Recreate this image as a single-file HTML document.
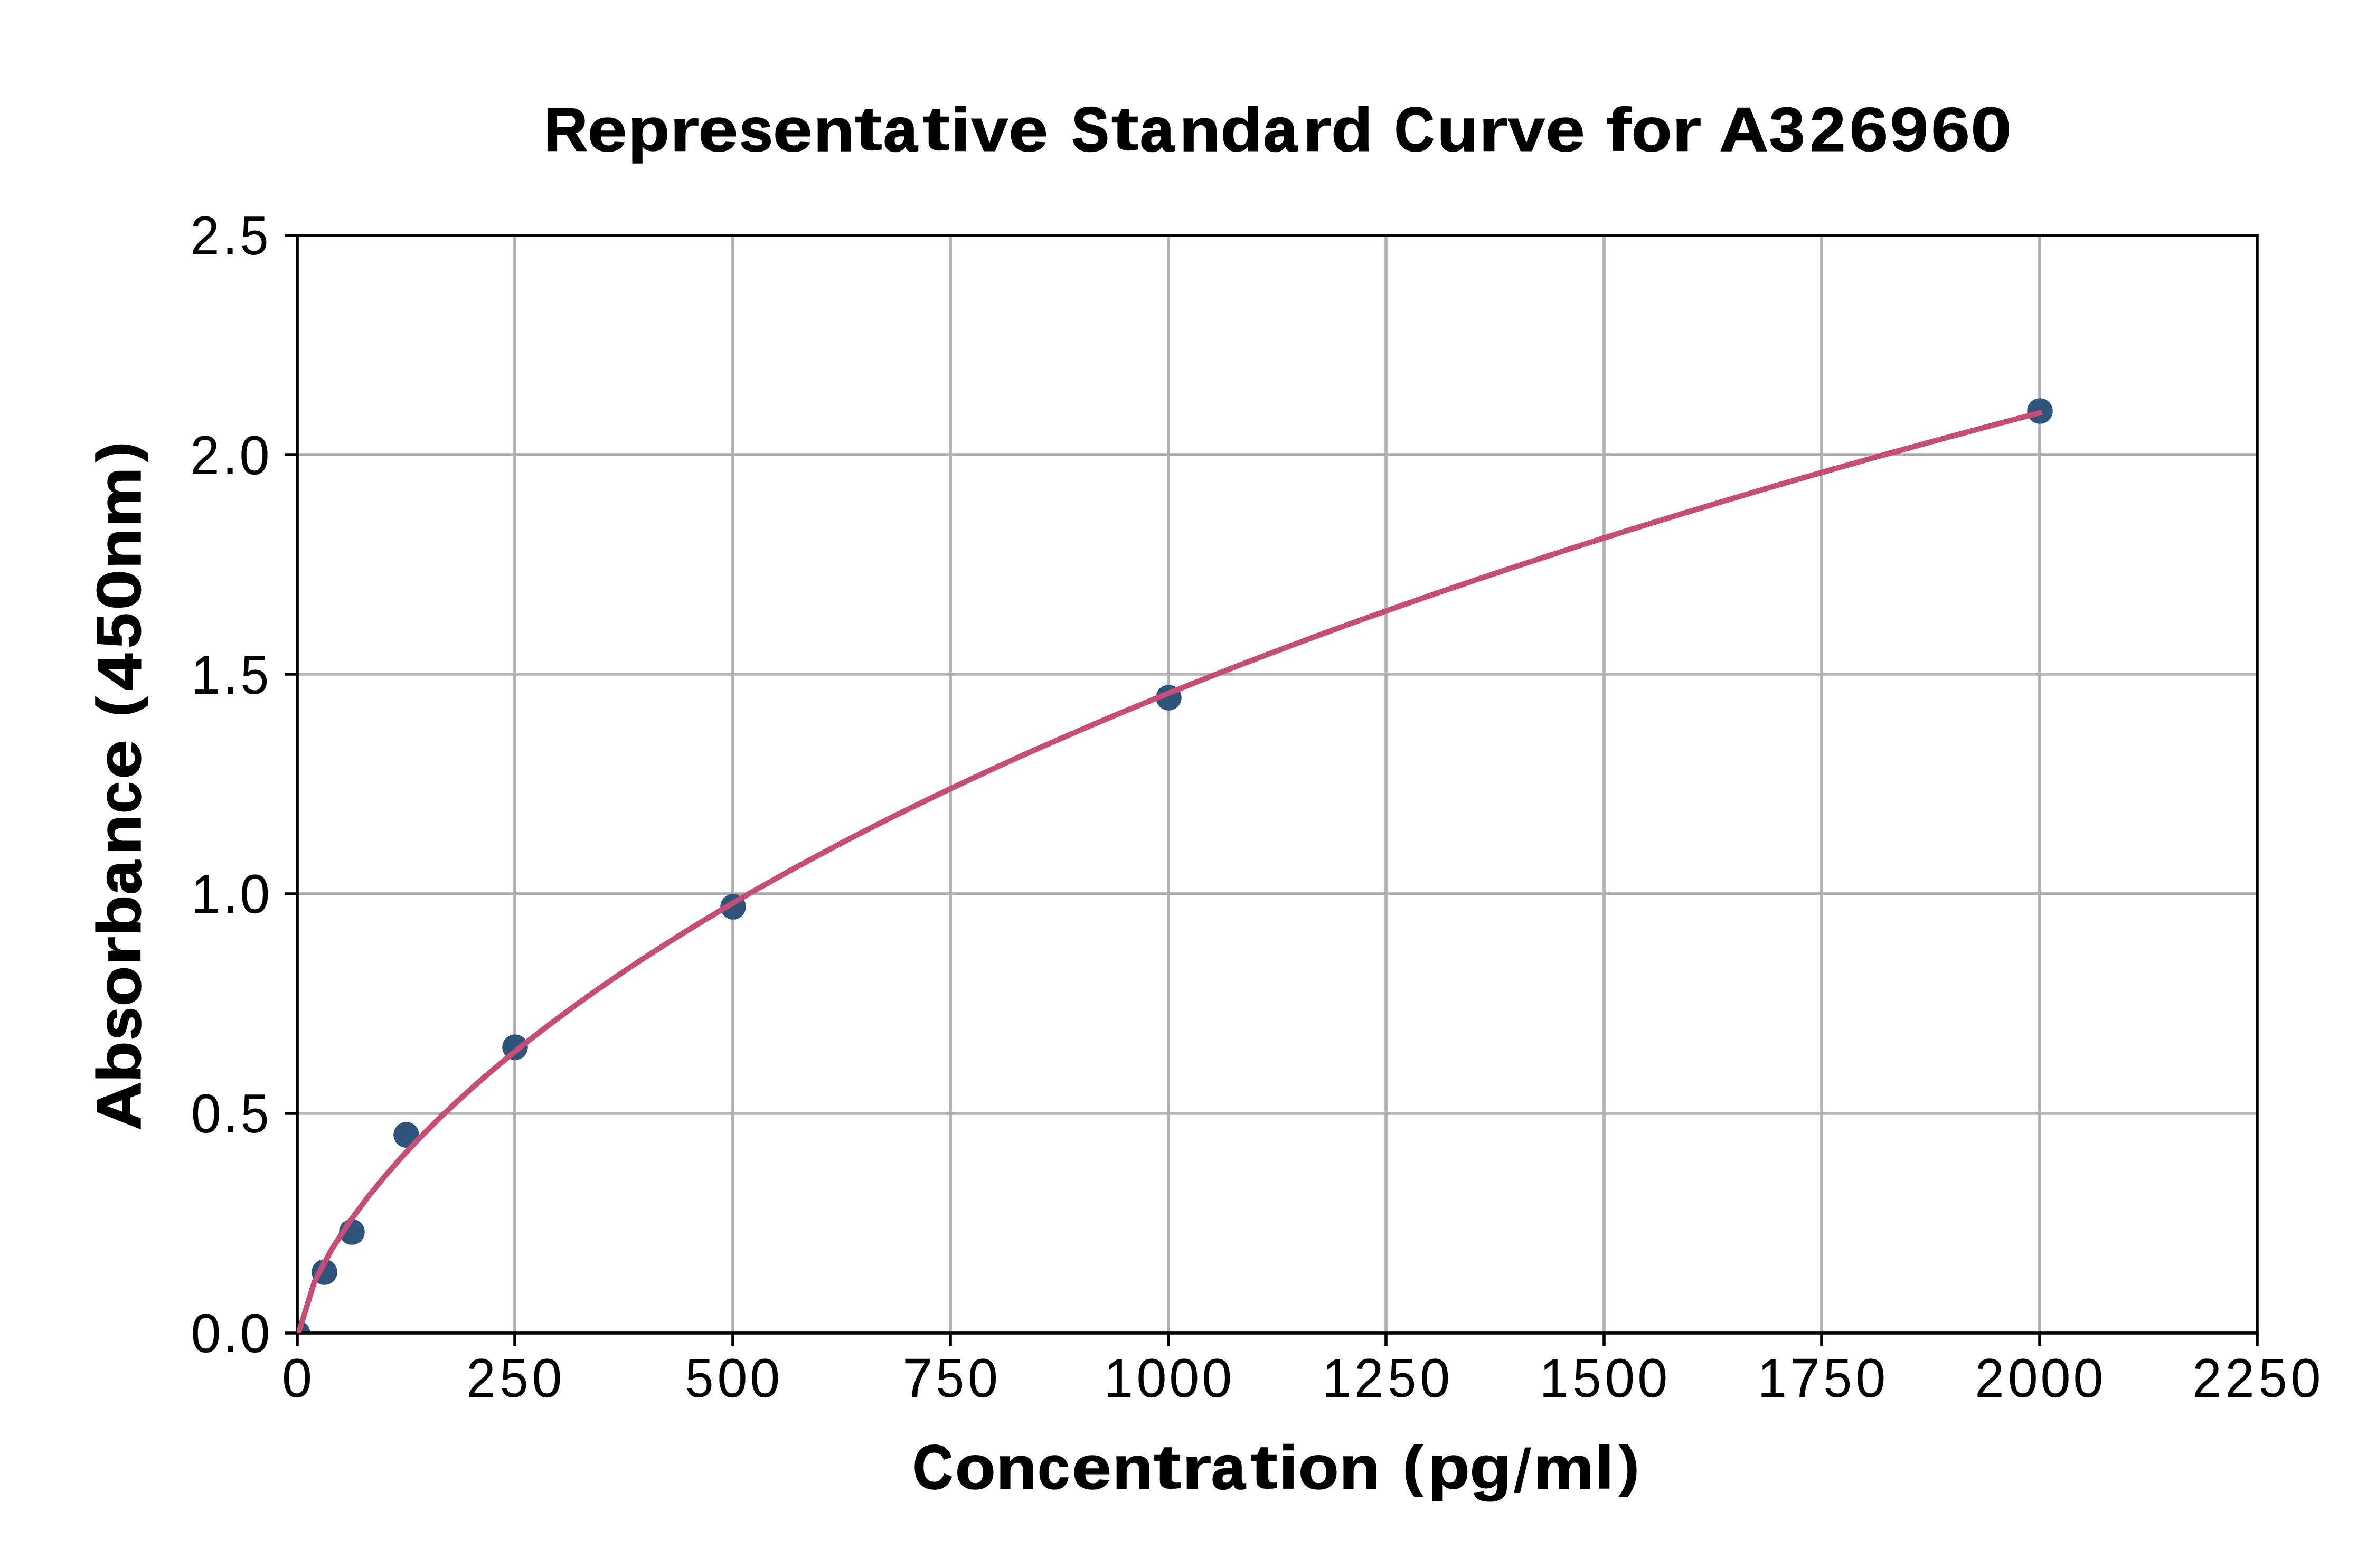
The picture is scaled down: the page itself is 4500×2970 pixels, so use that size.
<!DOCTYPE html>
<html><head><meta charset="utf-8"><title>Representative Standard Curve for A326960</title>
<style>html,body{margin:0;padding:0;background:#fff}body{width:4500px;height:2970px}svg{display:block}</style>
</head><body>
<svg width="4500" height="2970" viewBox="0 0 4500 2970">
<defs><clipPath id="ax"><rect x="563" y="446" width="3712" height="2079"/></clipPath></defs>
<rect width="4500" height="2970" fill="#fff"/>
<path d="M975 446V2525M1388 446V2525M1800 446V2525M2213 446V2525M2625 446V2525M3038 446V2525M3450 446V2525M3863 446V2525M563 2109H4275M563 1693H4275M563 1277H4275M563 861H4275" stroke="#b0b0b0" stroke-width="5.6" fill="none"/>
<g clip-path="url(#ax)" fill="#2e5479"><circle cx="563.5" cy="2525.5" r="24.31"/><circle cx="614.5" cy="2409.5" r="24.31"/><circle cx="666.5" cy="2333.5" r="24.31"/><circle cx="769.5" cy="2149.5" r="24.31"/><circle cx="975.5" cy="1983.5" r="24.31"/><circle cx="1388.5" cy="1717.5" r="24.31"/><circle cx="2213.5" cy="1321.5" r="24.31"/><circle cx="3863.5" cy="778.5" r="24.31"/></g>
<rect x="563.03" y="446.03" width="3711.94" height="2078.94" fill="none" stroke="#000" stroke-width="5.62"/>
<path d="M563 2525V2549M975 2525V2549M1388 2525V2549M1800 2525V2549M2213 2525V2549M2625 2525V2549M3038 2525V2549M3450 2525V2549M3863 2525V2549M4275 2525V2549M563 2525H539M563 2109H539M563 1693H539M563 1277H539M563 861H539M563 446H539" stroke="#000" stroke-width="5.62" fill="none"/>
<polyline clip-path="url(#ax)" points="562.5,2534.21 595.83,2426.81 629.17,2364.83 662.5,2313.63 695.83,2268.55 729.17,2227.62 762.5,2189.8 795.83,2154.42 829.17,2121.04 862.5,2089.35 895.83,2059.1 929.17,2030.11 962.5,2002.24 995.83,1975.37 1029.17,1949.39 1062.5,1924.24 1095.83,1899.83 1129.17,1876.11 1162.5,1853.03 1195.83,1830.54 1229.17,1808.6 1262.5,1787.18 1295.83,1766.24 1329.17,1745.76 1362.5,1725.71 1395.83,1706.07 1429.17,1686.82 1462.5,1667.93 1495.83,1649.39 1529.17,1631.19 1562.5,1613.31 1595.83,1595.73 1629.17,1578.44 1662.5,1561.43 1695.83,1544.69 1729.17,1528.21 1762.5,1511.98 1795.83,1495.99 1829.17,1480.24 1862.5,1464.7 1895.83,1449.38 1929.17,1434.27 1962.5,1419.36 1995.83,1404.65 2029.17,1390.13 2062.5,1375.79 2095.83,1361.63 2129.17,1347.65 2162.5,1333.83 2195.83,1320.17 2229.17,1306.68 2262.5,1293.34 2295.83,1280.15 2329.17,1267.11 2362.5,1254.21 2395.83,1241.46 2429.17,1228.84 2462.5,1216.35 2495.83,1203.99 2529.17,1191.76 2562.5,1179.65 2595.83,1167.67 2629.17,1155.8 2662.5,1144.05 2695.83,1132.41 2729.17,1120.88 2762.5,1109.46 2795.83,1098.15 2829.17,1086.95 2862.5,1075.84 2895.83,1064.83 2929.17,1053.93 2962.5,1043.12 2995.83,1032.4 3029.17,1021.78 3062.5,1011.24 3095.83,1000.8 3129.17,990.45 3162.5,980.18 3195.83,969.99 3229.17,959.89 3262.5,949.87 3295.83,939.93 3329.17,930.07 3362.5,920.28 3395.83,910.57 3429.17,900.94 3462.5,891.38 3495.83,881.89 3529.17,872.48 3562.5,863.13 3595.83,853.86 3629.17,844.65 3662.5,835.51 3695.83,826.43 3729.17,817.42 3762.5,808.47 3795.83,799.59 3829.17,790.77 3862.5,782.01" fill="none" stroke="#c54d77" stroke-width="10.42" stroke-linecap="square" stroke-linejoin="round"/>
<g font-family="'Liberation Sans', sans-serif" fill="#000">
<text font-weight="bold"><tspan x="1030.05" y="285.5" font-size="117.74" textLength="83.2" lengthAdjust="spacingAndGlyphs" stroke="#000" stroke-width="1.6">R</tspan><tspan x="1112.62" y="285.94" font-size="116.46" textLength="75.1" lengthAdjust="spacingAndGlyphs" stroke="#000" stroke-width="1.33">e</tspan><tspan x="1189.3" y="284.91" font-size="114.23" textLength="79.05" lengthAdjust="spacingAndGlyphs" stroke="#000" stroke-width="1.43">p</tspan><tspan x="1267.72" y="285.5" font-size="115.54" textLength="57.01" lengthAdjust="spacingAndGlyphs" stroke="#000" stroke-width="0.39">r</tspan><tspan x="1322.34" y="285.94" font-size="116.46" textLength="75.1" lengthAdjust="spacingAndGlyphs" stroke="#000" stroke-width="1.33">e</tspan><tspan x="1399.93" y="285.94" font-size="116.36" textLength="63.87" lengthAdjust="spacingAndGlyphs" stroke="#000" stroke-width="1.79">s</tspan><tspan x="1463.86" y="285.94" font-size="116.46" textLength="75.1" lengthAdjust="spacingAndGlyphs" stroke="#000" stroke-width="1.33">e</tspan><tspan x="1540.72" y="285.5" font-size="115.54" textLength="77.27" lengthAdjust="spacingAndGlyphs" stroke="#000" stroke-width="1.58">n</tspan><tspan x="1618.36" y="284.46" font-size="118" textLength="52.98" lengthAdjust="spacingAndGlyphs" stroke="#000" stroke-width="0.56">t</tspan><tspan x="1673.36" y="285.94" font-size="116.46" textLength="64.11" lengthAdjust="spacingAndGlyphs" stroke="#000" stroke-width="2.52">a</tspan><tspan x="1746.47" y="284.46" font-size="118" textLength="52.98" lengthAdjust="spacingAndGlyphs" stroke="#000" stroke-width="0.56">t</tspan><tspan x="1799.52" y="285.5" font-size="116.5" textLength="39.33" lengthAdjust="spacingAndGlyphs" stroke="#000" stroke-width="0.57">i</tspan><tspan x="1839.36" y="285.5" font-size="115.01" textLength="70.17" lengthAdjust="spacingAndGlyphs" stroke="#000" stroke-width="1.06">v</tspan><tspan x="1910.11" y="285.94" font-size="116.46" textLength="75.1" lengthAdjust="spacingAndGlyphs" stroke="#000" stroke-width="1.33">e</tspan> <tspan x="2029.57" y="285.91" font-size="118.7" textLength="71.15" lengthAdjust="spacingAndGlyphs" stroke="#000" stroke-width="2.28">S</tspan><tspan x="2104.22" y="284.46" font-size="118" textLength="52.98" lengthAdjust="spacingAndGlyphs" stroke="#000" stroke-width="0.56">t</tspan><tspan x="2159.22" y="285.94" font-size="116.46" textLength="64.11" lengthAdjust="spacingAndGlyphs" stroke="#000" stroke-width="2.52">a</tspan><tspan x="2233.8" y="285.5" font-size="115.54" textLength="77.27" lengthAdjust="spacingAndGlyphs" stroke="#000" stroke-width="1.58">n</tspan><tspan x="2311.6" y="285.93" font-size="117.1" textLength="79.05" lengthAdjust="spacingAndGlyphs" stroke="#000" stroke-width="1.29">d</tspan><tspan x="2392.86" y="285.94" font-size="116.46" textLength="64.11" lengthAdjust="spacingAndGlyphs" stroke="#000" stroke-width="2.52">a</tspan><tspan x="2466.12" y="285.5" font-size="115.54" textLength="57.01" lengthAdjust="spacingAndGlyphs" stroke="#000" stroke-width="0.39">r</tspan><tspan x="2520.93" y="285.93" font-size="117.1" textLength="79.05" lengthAdjust="spacingAndGlyphs" stroke="#000" stroke-width="1.29">d</tspan> <tspan x="2640.69" y="285.91" font-size="118.7" textLength="76.11" lengthAdjust="spacingAndGlyphs" stroke="#000" stroke-width="1.81">C</tspan><tspan x="2721.86" y="285.94" font-size="115.85" textLength="77.27" lengthAdjust="spacingAndGlyphs" stroke="#000" stroke-width="1.53">u</tspan><tspan x="2799.81" y="285.5" font-size="115.54" textLength="57.01" lengthAdjust="spacingAndGlyphs" stroke="#000" stroke-width="0.39">r</tspan><tspan x="2856.12" y="285.5" font-size="115.01" textLength="70.17" lengthAdjust="spacingAndGlyphs" stroke="#000" stroke-width="1.06">v</tspan><tspan x="2926.87" y="285.94" font-size="116.46" textLength="75.1" lengthAdjust="spacingAndGlyphs" stroke="#000" stroke-width="1.33">e</tspan> <tspan x="3041.01" y="285.5" font-size="116.5" textLength="49.45" lengthAdjust="spacingAndGlyphs" stroke="#000" stroke-width="0.4">f</tspan><tspan x="3089.66" y="285.94" font-size="116.46" textLength="76.58" lengthAdjust="spacingAndGlyphs" stroke="#000" stroke-width="1.72">o</tspan><tspan x="3165.8" y="285.5" font-size="115.54" textLength="57.01" lengthAdjust="spacingAndGlyphs" stroke="#000" stroke-width="0.39">r</tspan> <tspan x="3257" y="285.5" font-size="117.74" textLength="91.4" lengthAdjust="spacingAndGlyphs" stroke="#000" stroke-width="2.43">A</tspan><tspan x="3350.22" y="285.74" font-size="118.45" textLength="68.29" lengthAdjust="spacingAndGlyphs" stroke="#000" stroke-width="1.2">3</tspan><tspan x="3427.48" y="285.5" font-size="118.1" textLength="68" lengthAdjust="spacingAndGlyphs" stroke="#000" stroke-width="1.18">2</tspan><tspan x="3502.27" y="285.92" font-size="118.54" textLength="74.15" lengthAdjust="spacingAndGlyphs" stroke="#000" stroke-width="0.66">6</tspan><tspan x="3578.73" y="285.92" font-size="118.54" textLength="74" lengthAdjust="spacingAndGlyphs" stroke="#000" stroke-width="0.4">9</tspan><tspan x="3656.93" y="285.92" font-size="118.54" textLength="74.15" lengthAdjust="spacingAndGlyphs" stroke="#000" stroke-width="0.66">6</tspan><tspan x="3732.02" y="285.91" font-size="118.7" textLength="77.97" lengthAdjust="spacingAndGlyphs" stroke="#000" stroke-width="0.85">0</tspan></text>
<text font-weight="bold"><tspan x="1728.84" y="2820.41" font-size="118.7" textLength="76.11" lengthAdjust="spacingAndGlyphs" stroke="#000" stroke-width="1.81">C</tspan><tspan x="1809.05" y="2820.44" font-size="116.46" textLength="76.58" lengthAdjust="spacingAndGlyphs" stroke="#000" stroke-width="1.72">o</tspan><tspan x="1886.51" y="2820" font-size="115.54" textLength="77.27" lengthAdjust="spacingAndGlyphs" stroke="#000" stroke-width="1.58">n</tspan><tspan x="1965.1" y="2820.44" font-size="116.46" textLength="61.18" lengthAdjust="spacingAndGlyphs" stroke="#000" stroke-width="1.5">c</tspan><tspan x="2030" y="2820.44" font-size="116.46" textLength="75.1" lengthAdjust="spacingAndGlyphs" stroke="#000" stroke-width="1.33">e</tspan><tspan x="2106.87" y="2820" font-size="115.54" textLength="77.27" lengthAdjust="spacingAndGlyphs" stroke="#000" stroke-width="1.58">n</tspan><tspan x="2184.51" y="2818.96" font-size="118" textLength="52.98" lengthAdjust="spacingAndGlyphs" stroke="#000" stroke-width="0.56">t</tspan><tspan x="2237.78" y="2820" font-size="115.54" textLength="57.01" lengthAdjust="spacingAndGlyphs" stroke="#000" stroke-width="0.39">r</tspan><tspan x="2294.3" y="2820.44" font-size="116.46" textLength="64.11" lengthAdjust="spacingAndGlyphs" stroke="#000" stroke-width="2.52">a</tspan><tspan x="2367.41" y="2818.96" font-size="118" textLength="52.98" lengthAdjust="spacingAndGlyphs" stroke="#000" stroke-width="0.56">t</tspan><tspan x="2420.46" y="2820" font-size="116.5" textLength="39.33" lengthAdjust="spacingAndGlyphs" stroke="#000" stroke-width="0.57">i</tspan><tspan x="2458.99" y="2820.44" font-size="116.46" textLength="76.58" lengthAdjust="spacingAndGlyphs" stroke="#000" stroke-width="1.72">o</tspan><tspan x="2536.45" y="2820" font-size="115.54" textLength="77.27" lengthAdjust="spacingAndGlyphs" stroke="#000" stroke-width="1.58">n</tspan> <tspan x="2657.09" y="2812.62" font-size="106.16" textLength="38.15" lengthAdjust="spacingAndGlyphs" stroke="#000" stroke-width="1.61">(</tspan><tspan x="2704.83" y="2819.41" font-size="114.23" textLength="79.05" lengthAdjust="spacingAndGlyphs" stroke="#000" stroke-width="1.43">p</tspan><tspan x="2783.25" y="2819.67" font-size="114.73" textLength="79.2" lengthAdjust="spacingAndGlyphs" stroke="#000" stroke-width="1.07">g</tspan><tspan x="2861.59" y="2827.85" font-size="122.62" textLength="43.65" lengthAdjust="spacingAndGlyphs" stroke="#fff" stroke-width="5.23">/</tspan><tspan x="2904.48" y="2820" font-size="115.54" textLength="114.19" lengthAdjust="spacingAndGlyphs" stroke="#000" stroke-width="1.49">m</tspan><tspan x="3018.96" y="2820" font-size="116.5" textLength="39.33" lengthAdjust="spacingAndGlyphs">l</tspan><tspan x="3066.39" y="2812.62" font-size="106.16" textLength="38.15" lengthAdjust="spacingAndGlyphs" stroke="#000" stroke-width="1.63">)</tspan></text>
<text transform="translate(265.5 0) rotate(-90)" font-weight="bold"><tspan x="-2140.54" y="0" font-size="117.74" textLength="91.4" lengthAdjust="spacingAndGlyphs" stroke="#000" stroke-width="2.37">A</tspan><tspan x="-2051.13" y="0.43" font-size="117.1" textLength="79.05" lengthAdjust="spacingAndGlyphs" stroke="#000" stroke-width="1.19">b</tspan><tspan x="-1970.67" y="0.44" font-size="116.36" textLength="63.87" lengthAdjust="spacingAndGlyphs" stroke="#000" stroke-width="1.73">s</tspan><tspan x="-1906.36" y="0.44" font-size="116.46" textLength="76.58" lengthAdjust="spacingAndGlyphs" stroke="#000" stroke-width="1.66">o</tspan><tspan x="-1830.22" y="0" font-size="115.54" textLength="57.01" lengthAdjust="spacingAndGlyphs" stroke="#000" stroke-width="0.33">r</tspan><tspan x="-1774.3" y="0.43" font-size="117.1" textLength="79.05" lengthAdjust="spacingAndGlyphs" stroke="#000" stroke-width="1.19">b</tspan><tspan x="-1694.15" y="0.44" font-size="116.46" textLength="64.11" lengthAdjust="spacingAndGlyphs" stroke="#000" stroke-width="2.46">a</tspan><tspan x="-1619.57" y="0" font-size="115.54" textLength="77.27" lengthAdjust="spacingAndGlyphs" stroke="#000" stroke-width="1.52">n</tspan><tspan x="-1540.98" y="0.44" font-size="116.46" textLength="61.18" lengthAdjust="spacingAndGlyphs" stroke="#000" stroke-width="1.44">c</tspan><tspan x="-1476.08" y="0.44" font-size="116.46" textLength="75.1" lengthAdjust="spacingAndGlyphs" stroke="#000" stroke-width="1.27">e</tspan> <tspan x="-1357.68" y="-7.38" font-size="106.16" textLength="38.15" lengthAdjust="spacingAndGlyphs" stroke="#000" stroke-width="1.55">(</tspan><tspan x="-1307.65" y="0" font-size="117.74" textLength="69.79" lengthAdjust="spacingAndGlyphs" stroke="#000" stroke-width="2">4</tspan><tspan x="-1228.61" y="0.42" font-size="118.34" textLength="68.16" lengthAdjust="spacingAndGlyphs" stroke="#000" stroke-width="1.05">5</tspan><tspan x="-1156.31" y="0.41" font-size="118.7" textLength="77.97" lengthAdjust="spacingAndGlyphs" stroke="#000" stroke-width="0.79">0</tspan><tspan x="-1077.76" y="0" font-size="115.54" textLength="77.27" lengthAdjust="spacingAndGlyphs" stroke="#000" stroke-width="1.52">n</tspan><tspan x="-998.89" y="0" font-size="115.54" textLength="114.19" lengthAdjust="spacingAndGlyphs" stroke="#000" stroke-width="1.43">m</tspan><tspan x="-875.06" y="-7.38" font-size="106.16" textLength="38.15" lengthAdjust="spacingAndGlyphs" stroke="#000" stroke-width="1.57">)</tspan></text>
<text><tspan x="361.61" y="2561.36" font-size="103.86" textLength="57" lengthAdjust="spacingAndGlyphs" stroke="#000" stroke-width="0.27">0</tspan><tspan x="421.87" y="2561" font-size="112.76" textLength="29.23" lengthAdjust="spacingAndGlyphs">.</tspan><tspan x="454.39" y="2561.36" font-size="103.86" textLength="57" lengthAdjust="spacingAndGlyphs" stroke="#000" stroke-width="0.27">0</tspan></text>
<text><tspan x="361.63" y="2145.36" font-size="103.86" textLength="57" lengthAdjust="spacingAndGlyphs" stroke="#000" stroke-width="0.27">0</tspan><tspan x="421.89" y="2145" font-size="112.76" textLength="29.23" lengthAdjust="spacingAndGlyphs">.</tspan><tspan x="455.64" y="2145.37" font-size="103.55" textLength="53.79" lengthAdjust="spacingAndGlyphs">5</tspan></text>
<text><tspan x="362.29" y="1729" font-size="103.02" textLength="54.44" lengthAdjust="spacingAndGlyphs" stroke="#000" stroke-width="0.54">1</tspan><tspan x="421.73" y="1729" font-size="112.76" textLength="29.23" lengthAdjust="spacingAndGlyphs">.</tspan><tspan x="454.26" y="1729.36" font-size="103.86" textLength="57" lengthAdjust="spacingAndGlyphs" stroke="#000" stroke-width="0.27">0</tspan></text>
<text><tspan x="362.31" y="1314" font-size="103.02" textLength="54.44" lengthAdjust="spacingAndGlyphs" stroke="#000" stroke-width="0.54">1</tspan><tspan x="421.76" y="1314" font-size="112.76" textLength="29.23" lengthAdjust="spacingAndGlyphs">.</tspan><tspan x="455.5" y="1314.37" font-size="103.55" textLength="53.79" lengthAdjust="spacingAndGlyphs">5</tspan></text>
<text><tspan x="360.5" y="898" font-size="103.34" textLength="54.94" lengthAdjust="spacingAndGlyphs" stroke="#000" stroke-width="0.22">2</tspan><tspan x="421.01" y="898" font-size="112.76" textLength="29.23" lengthAdjust="spacingAndGlyphs">.</tspan><tspan x="453.54" y="898.36" font-size="103.86" textLength="57" lengthAdjust="spacingAndGlyphs" stroke="#000" stroke-width="0.27">0</tspan></text>
<text><tspan x="360.52" y="482" font-size="103.34" textLength="54.94" lengthAdjust="spacingAndGlyphs" stroke="#000" stroke-width="0.22">2</tspan><tspan x="421.04" y="482" font-size="112.76" textLength="29.23" lengthAdjust="spacingAndGlyphs">.</tspan><tspan x="454.78" y="482.37" font-size="103.55" textLength="53.79" lengthAdjust="spacingAndGlyphs">5</tspan></text>
<text><tspan x="534" y="2646.36" font-size="103.86" textLength="57" lengthAdjust="spacingAndGlyphs" stroke="#000" stroke-width="0.27">0</tspan></text>
<text><tspan x="883.52" y="2646" font-size="103.34" textLength="54.94" lengthAdjust="spacingAndGlyphs" stroke="#000" stroke-width="0.22">2</tspan><tspan x="946.87" y="2646.37" font-size="103.55" textLength="53.79" lengthAdjust="spacingAndGlyphs">5</tspan><tspan x="1007.52" y="2646.36" font-size="103.86" textLength="57" lengthAdjust="spacingAndGlyphs" stroke="#000" stroke-width="0.27">0</tspan></text>
<text><tspan x="1297.8" y="2646.37" font-size="103.55" textLength="53.79" lengthAdjust="spacingAndGlyphs">5</tspan><tspan x="1358.46" y="2646.36" font-size="103.86" textLength="57" lengthAdjust="spacingAndGlyphs" stroke="#000" stroke-width="0.27">0</tspan><tspan x="1420.33" y="2646.36" font-size="103.86" textLength="57" lengthAdjust="spacingAndGlyphs" stroke="#000" stroke-width="0.27">0</tspan></text>
<text><tspan x="1709.77" y="2646" font-size="103.02" textLength="55.75" lengthAdjust="spacingAndGlyphs" stroke="#000" stroke-width="0.72">7</tspan><tspan x="1772.44" y="2646.37" font-size="103.55" textLength="53.79" lengthAdjust="spacingAndGlyphs">5</tspan><tspan x="1833.09" y="2646.36" font-size="103.86" textLength="57" lengthAdjust="spacingAndGlyphs" stroke="#000" stroke-width="0.27">0</tspan></text>
<text><tspan x="2091.37" y="2646" font-size="103.02" textLength="54.44" lengthAdjust="spacingAndGlyphs" stroke="#000" stroke-width="0.54">1</tspan><tspan x="2152.43" y="2646.36" font-size="103.86" textLength="57" lengthAdjust="spacingAndGlyphs" stroke="#000" stroke-width="0.27">0</tspan><tspan x="2214.3" y="2646.36" font-size="103.86" textLength="57" lengthAdjust="spacingAndGlyphs" stroke="#000" stroke-width="0.27">0</tspan><tspan x="2276.18" y="2646.36" font-size="103.86" textLength="57" lengthAdjust="spacingAndGlyphs" stroke="#000" stroke-width="0.27">0</tspan></text>
<text><tspan x="2504.37" y="2646" font-size="103.02" textLength="54.44" lengthAdjust="spacingAndGlyphs" stroke="#000" stroke-width="0.54">1</tspan><tspan x="2565.17" y="2646" font-size="103.34" textLength="54.94" lengthAdjust="spacingAndGlyphs" stroke="#000" stroke-width="0.22">2</tspan><tspan x="2628.53" y="2646.37" font-size="103.55" textLength="53.79" lengthAdjust="spacingAndGlyphs">5</tspan><tspan x="2689.18" y="2646.36" font-size="103.86" textLength="57" lengthAdjust="spacingAndGlyphs" stroke="#000" stroke-width="0.27">0</tspan></text>
<text><tspan x="2916.37" y="2646" font-size="103.02" textLength="54.44" lengthAdjust="spacingAndGlyphs" stroke="#000" stroke-width="0.54">1</tspan><tspan x="2978.65" y="2646.37" font-size="103.55" textLength="53.79" lengthAdjust="spacingAndGlyphs">5</tspan><tspan x="3039.3" y="2646.36" font-size="103.86" textLength="57" lengthAdjust="spacingAndGlyphs" stroke="#000" stroke-width="0.27">0</tspan><tspan x="3101.18" y="2646.36" font-size="103.86" textLength="57" lengthAdjust="spacingAndGlyphs" stroke="#000" stroke-width="0.27">0</tspan></text>
<text><tspan x="3329.37" y="2646" font-size="103.02" textLength="54.44" lengthAdjust="spacingAndGlyphs" stroke="#000" stroke-width="0.54">1</tspan><tspan x="3390.86" y="2646" font-size="103.02" textLength="55.75" lengthAdjust="spacingAndGlyphs" stroke="#000" stroke-width="0.72">7</tspan><tspan x="3453.53" y="2646.37" font-size="103.55" textLength="53.79" lengthAdjust="spacingAndGlyphs">5</tspan><tspan x="3514.18" y="2646.36" font-size="103.86" textLength="57" lengthAdjust="spacingAndGlyphs" stroke="#000" stroke-width="0.27">0</tspan></text>
<text><tspan x="3740.58" y="2646" font-size="103.34" textLength="54.94" lengthAdjust="spacingAndGlyphs" stroke="#000" stroke-width="0.22">2</tspan><tspan x="3802.71" y="2646.36" font-size="103.86" textLength="57" lengthAdjust="spacingAndGlyphs" stroke="#000" stroke-width="0.27">0</tspan><tspan x="3864.58" y="2646.36" font-size="103.86" textLength="57" lengthAdjust="spacingAndGlyphs" stroke="#000" stroke-width="0.27">0</tspan><tspan x="3926.46" y="2646.36" font-size="103.86" textLength="57" lengthAdjust="spacingAndGlyphs" stroke="#000" stroke-width="0.27">0</tspan></text>
<text><tspan x="4152.58" y="2646" font-size="103.34" textLength="54.94" lengthAdjust="spacingAndGlyphs" stroke="#000" stroke-width="0.22">2</tspan><tspan x="4214.45" y="2646" font-size="103.34" textLength="54.94" lengthAdjust="spacingAndGlyphs" stroke="#000" stroke-width="0.22">2</tspan><tspan x="4277.81" y="2646.37" font-size="103.55" textLength="53.79" lengthAdjust="spacingAndGlyphs">5</tspan><tspan x="4338.46" y="2646.36" font-size="103.86" textLength="57" lengthAdjust="spacingAndGlyphs" stroke="#000" stroke-width="0.27">0</tspan></text>
</g>
</svg>
</body></html>
